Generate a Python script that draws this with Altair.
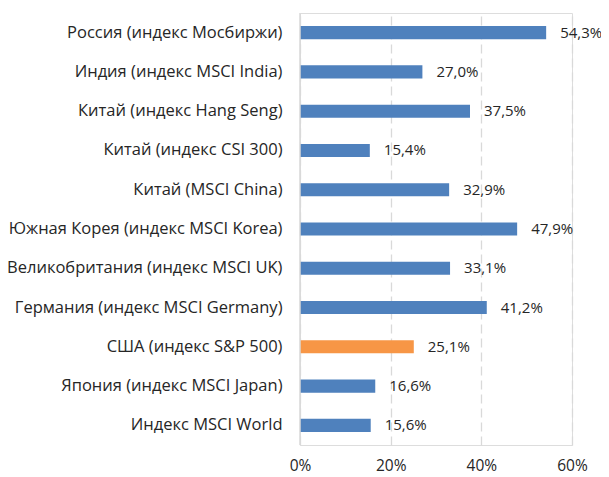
import altair as alt
import pandas as pd

categories = [
    "Россия (индекс Мосбиржи)",
    "Индия (индекс MSCI India)",
    "Китай (индекс Hang Seng)",
    "Китай (индекс CSI 300)",
    "Китай (MSCI China)",
    "Южная Корея (индекс MSCI Korea)",
    "Великобритания (индекс MSCI UK)",
    "Германия (индекс MSCI Germany)",
    "США (индекс S&P 500)",
    "Япония (индекс MSCI Japan)",
    "Индекс MSCI World",
]
values = [54.3, 27.0, 37.5, 15.4, 32.9, 47.9, 33.1, 41.2, 25.1, 16.6, 15.6]
highlight = [False, False, False, False, False, False, False, False, True, False, False]

df = pd.DataFrame({
    "cat": categories,
    "val": [v / 100 for v in values],
    "hl": ["y" if h else "n" for h in highlight],
    "label": [f"{v:.1f}".replace(".", ",") + "%" for v in values],
})

FONT = "Open Sans"
TXT = "#262626"

y = alt.Y("cat:N", sort=categories, title=None,
          scale=alt.Scale(paddingInner=0.667, paddingOuter=0.3335),
          axis=alt.Axis(labelFont=FONT, labelFontSize=16.5, labelColor=TXT,
                        labelPadding=18, ticks=False, domain=False,
                        labelLimit=400))

x = alt.X("val:Q", title=None,
          scale=alt.Scale(domain=[0, 0.6], nice=False),
          axis=alt.Axis(format=".0%", values=[0, 0.2, 0.4, 0.6],
                        labelFont=FONT, labelFontSize=15.5, labelColor=TXT,
                        labelPadding=13, labelFlush=False, ticks=False,
                        domain=False,
                        grid=True, gridColor="#D9D9D9", gridDash=[9, 5],
                        gridWidth=1.3))

bars = alt.Chart(df).mark_bar().encode(
    x=x, y=y,
    color=alt.Color("hl:N", scale=alt.Scale(domain=["n", "y"],
                                            range=["#4F81BD", "#F79646"]),
                    legend=None),
)

zero = alt.Chart(pd.DataFrame({"z": [0]})).mark_rule(
    color="#D9D9D9", strokeWidth=1.5).encode(x=alt.X("z:Q"))

labels = alt.Chart(df).mark_text(align="left", baseline="middle", dx=14,
                                 font=FONT, fontSize=15, color=TXT).encode(
    x=alt.X("val:Q"), y=alt.Y("cat:N", sort=categories), text="label:N")

chart = alt.layer(bars, zero, labels).properties(
    width=272, height=432,
    autosize=alt.AutoSizeParams(type="none"),
    padding={"left": 292, "top": 5, "right": 29, "bottom": 32},
).configure_view(stroke=None).configure(background="white")

chart.save("out.html", embed_options={"renderer": "svg", "actions": False})
